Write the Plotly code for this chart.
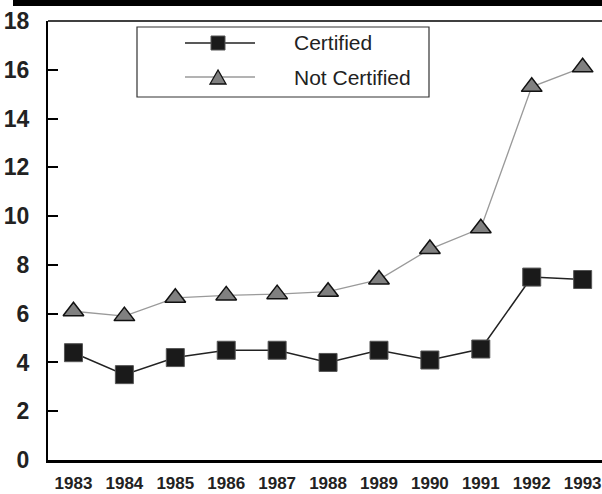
import plotly.graph_objects as go

years = [1983, 1984, 1985, 1986, 1987, 1988, 1989, 1990, 1991, 1992, 1993]
certified = [4.4, 3.5, 4.2, 4.5, 4.5, 4.0, 4.5, 4.1, 4.55, 7.5, 7.4]
not_certified = [6.1, 5.9, 6.65, 6.75, 6.8, 6.9, 7.4, 8.65, 9.5, 15.3, 16.1]
y_ticks = [0, 2, 4, 6, 8, 10, 12, 14, 16, 18]
series_names = ["Certified", "Not Certified"]

FONT = "Liberation Sans, Arial, Helvetica, sans-serif"

fig = go.Figure()
fig.add_trace(go.Scatter(
    x=years, y=not_certified, mode="lines+markers", name=series_names[1],
    line=dict(color="#9a9a9a", width=1.3),
    marker=dict(symbol="triangle-up", size=18, color="#808080",
                line=dict(color="#111111", width=1.5)),
    showlegend=False,
))
fig.add_trace(go.Scatter(
    x=years, y=certified, mode="lines+markers", name=series_names[0],
    line=dict(color="#222222", width=1.5),
    marker=dict(symbol="square", size=18, color="#1a1a1a",
                line=dict(color="#555555", width=1)),
    showlegend=False,
))

# plot area pixel geometry helpers (for decorations only)
L, R, T, B = 48, 0, 21, 34
W, H = 602 - L - R, 494 - T - B
def px(x):
    return (x - L) / W
def py(y):
    return (494 - B - y) / H

shapes = []
# top black bar
shapes.append(dict(type="rect", xref="paper", yref="paper",
                   x0=px(13), x1=1.02, y0=py(6), y1=py(-2),
                   fillcolor="black", line=dict(width=0), layer="above"))
# top frame line
shapes.append(dict(type="line", xref="paper", yref="paper",
                   x0=0, x1=1.02, y0=1, y1=1, line=dict(color="black", width=1.5)))
# legend box
shapes.append(dict(type="rect", xref="paper", yref="paper",
                   x0=px(137), x1=px(429), y0=py(97), y1=py(27),
                   fillcolor="white", line=dict(color="#333333", width=1.2)))
rows = [(43, "#222222", 1.5), (77, "#9a9a9a", 1.3)]
for (ry, col, lw) in rows:
    shapes.append(dict(type="line", xref="paper", yref="paper",
                       x0=px(185), x1=px(255), y0=py(ry), y1=py(ry),
                       line=dict(color=col, width=lw)))
# legend square symbol
shapes.append(dict(type="rect", xref="paper", yref="paper",
                   x0=px(211), x1=px(225), y0=py(50), y1=py(36),
                   fillcolor="#1a1a1a", line=dict(color="#555555", width=1)))
# legend triangle symbol
shapes.append(dict(type="path", xref="paper", yref="paper",
                   path="M {:.4f},{:.4f} L {:.4f},{:.4f} L {:.4f},{:.4f} Z".format(
                       px(210), py(84), px(226), py(84), px(218), py(70)),
                   fillcolor="#808080", line=dict(color="#111111", width=1.3)))

annotations = []
for (ry, _, _), name in zip(rows, series_names):
    annotations.append(dict(xref="paper", yref="paper", x=px(292), y=py(ry),
                            xanchor="left", yanchor="middle", text=name,
                            showarrow=False, font=dict(family=FONT, size=21, color="#222222")))

fig.update_layout(
    width=602, height=494,
    margin=dict(l=L, r=R, t=T, b=B, pad=0, autoexpand=False),
    paper_bgcolor="white", plot_bgcolor="white",
    shapes=shapes, annotations=annotations,
    xaxis=dict(range=[1982.5, 1993.38], tickmode="array", tickvals=years,
               ticktext=[str(y) for y in years], showgrid=False, zeroline=False,
               showline=True, linecolor="black", linewidth=3, ticks="",
               tickangle=0, automargin=False, ticklabelstandoff=6,
               ticklabeloverflow="allow",
               tickfont=dict(family=FONT, size=17, color="#222222", weight="bold")),
    yaxis=dict(range=[0, 18], tickmode="array", tickvals=y_ticks,
               showgrid=False, zeroline=False, showline=True, linecolor="black",
               linewidth=2, ticks="inside", ticklen=10, tickwidth=1.5, tickcolor="black",
               automargin=False, ticklabelstandoff=12, ticklabeloverflow="allow",
               tickfont=dict(family=FONT, size=23, color="#222222", weight="bold")),
)

fig.write_html("out.html", config={"displayModeBar": False},
               post_script="document.body.style.margin='0';document.body.style.overflow='hidden';")
